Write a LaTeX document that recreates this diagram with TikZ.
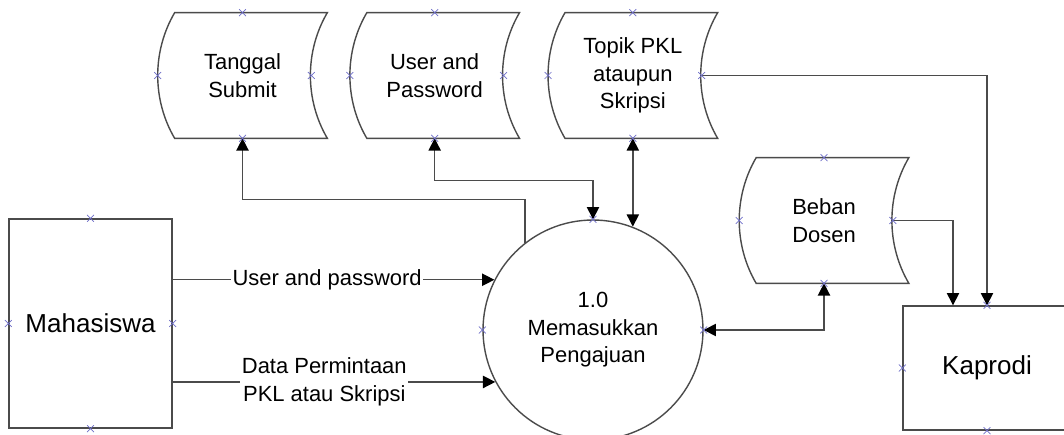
\documentclass[tikz,border=0pt]{standalone}
\usepackage{fontspec}
\setmainfont{Liberation Sans}
\usepackage{tikz}
\usetikzlibrary{shapes.geometric, shapes.misc, arrows.meta, positioning, calc}
\definecolor{linegray}{RGB}{75,75,75}
\definecolor{ptblue}{RGB}{110,110,200}
\tikzstyle{store} = [rectangle, minimum width=3.38cm, minimum height=2.5cm, inner sep=0pt, align=center, font=\fontsize{12.5}{15.6}\selectfont]
\tikzstyle{entity} = [rectangle, draw=linegray, line width=0.8pt, align=center, font=\fontsize{14.8}{17}\selectfont]
\tikzstyle{process} = [circle, draw=linegray, line width=0.8pt, minimum size=4.4cm, inner sep=0pt, align=center, font=\fontsize{12.5}{15.6}\selectfont]
\tikzstyle{arrow} = [line width=0.8pt, draw=linegray, ->, >={Triangle[length=7pt,width=7pt,color=black]}]
\tikzstyle{twoway} = [arrow, <->]
\tikzstyle{flowlabel} = [fill=white, inner sep=1pt, align=center, font=\fontsize{12.5}{15.6}\selectfont]
\tikzstyle{connmark} = [cross out, draw=ptblue, line width=0.4pt, minimum size=3.5pt, inner sep=0pt]
\newcommand{\storeline}[1]{%
\draw[linegray, line width=0.8pt] ($(#1.north west)+(17,0)$) -- (#1.north east)
  .. controls ($(#1.north east)+(-22.6,38.5)$) and ($(#1.south east)+(-22.6,-38.5)$) .. (#1.south east)
  -- ($(#1.south west)+(17,0)$)
  .. controls ($(#1.south west)+(-5.6,-38.5)$) and ($(#1.north west)+(-5.6,38.5)$) .. ($(#1.north west)+(17,0)$) -- cycle;}
\newcommand{\connpt}[1]{\node[connmark] at (#1) {};}

\begin{document}
\begin{tikzpicture}[x=0.02cm, y=-0.02cm]
\clip (0,0) rectangle (1064,435);
\node (tanggal) [store] at (242.5,75.5) {Tanggal\\Submit};
\node (user) [store, right=0.45cm of tanggal] {User and\\Password};
\node (topik) [store, right=0.57cm of user] {Topik PKL\\ataupun\\Skripsi};
\node (beban) [store] at (824,220.5) {Beban\\Dosen};
\node (mahasiswa) [entity, minimum width=3.26cm, minimum height=4.18cm] at (90.5,323.5) {Mahasiswa};
\node (proses) [process] at (593,330) {1.0\\Memasukkan\\Pengajuan};
\node (kaprodi) [entity, minimum width=3.36cm, minimum height=2.48cm] at (987,368) {Kaprodi};
\storeline{tanggal}
\storeline{user}
\storeline{topik}
\storeline{beban}
% aliran data
\draw[arrow] (proses.153 -| mahasiswa.east) -- node[flowlabel, pos=0.48] {User and password} (proses.153);
\draw[arrow] (proses.208 -| mahasiswa.east) -- node[flowlabel, pos=0.47] {Data Permintaan\\PKL atau Skripsi} (proses.208);
\draw[arrow] (proses.128) -- ++(0,-43) -| (tanggal.south);
\draw[twoway] (user.south) -- ++(0,42) -| (proses.north);
\draw[twoway] (topik.south) -- (topik.south |- proses.69);
\draw[arrow] ($(topik.east)+(-16,0)$) -| (kaprodi.north);
\draw[arrow] ($(beban.east)+(-16,0)$) -| ($(kaprodi.north)+(-34,0)$);
\draw[twoway] (proses.east) -| (beban.south);
% titik sambung
\connpt{tanggal.north} \connpt{tanggal.south} \connpt{tanggal.west} \connpt{$(tanggal.east)+(-16,0)$}
\connpt{user.north} \connpt{user.south} \connpt{user.west} \connpt{$(user.east)+(-16,0)$}
\connpt{topik.north} \connpt{topik.south} \connpt{topik.west} \connpt{$(topik.east)+(-16,0)$}
\connpt{beban.north} \connpt{beban.south} \connpt{beban.west} \connpt{$(beban.east)+(-16,0)$}
\connpt{proses.north} \connpt{proses.west} \connpt{proses.east}
\connpt{mahasiswa.north} \connpt{mahasiswa.south} \connpt{mahasiswa.west} \connpt{mahasiswa.east}
\connpt{kaprodi.north} \connpt{kaprodi.west} \connpt{kaprodi.south}
\end{tikzpicture}
\end{document}
